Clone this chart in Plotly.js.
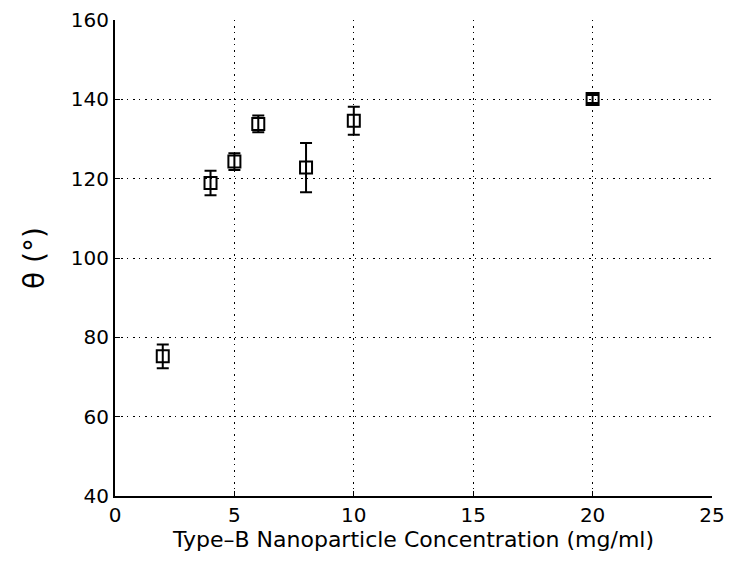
<!DOCTYPE html>
<html>
<head>
<meta charset="utf-8">
<script src="https://cdn.plot.ly/plotly-3.0.1.min.js"></script>
<style>html,body{margin:0;padding:0;background:#fff;}#chart{width:730px;height:563px;}</style>
</head>
<body>
<div id="chart"></div>
<script>
const concentration = [2, 4, 5, 6, 8, 10, 20];
const theta = [75.2, 118.9, 124.3, 133.8, 122.8, 134.6, 140.1];
const thetaErr = [3.0, 3.1, 2.1, 2.1, 6.2, 3.5, 1.0];
const xTicks = [0, 5, 10, 15, 20, 25];
const yTicks = [40, 60, 80, 100, 120, 140, 160];

const gridDash = "1px,5px,2px,4px";
const trace = {
  x: concentration, y: theta, type: 'scatter', mode: 'markers',
  marker: {symbol: 'square-open', size: 12, color: '#000', line: {width: 2, color: '#000'}},
  error_y: {type: 'data', array: thetaErr, visible: true, color: '#000', thickness: 2, width: 6},
  showlegend: false, cliponaxis: false
};
const layout = {
  width: 730, height: 563,
  margin: {l: 115, r: 18, t: 20, b: 67},
  paper_bgcolor: '#fff', plot_bgcolor: '#fff',
  font: {family: 'DejaVu Sans, Liberation Sans, sans-serif', color: '#000', size: 20},
  xaxis: {
    range: [0, 25], tickvals: xTicks, ticktext: xTicks.map(String),
    showline: true, linecolor: '#000', linewidth: 2, mirror: false,
    ticks: 'inside', ticklen: 5, tickcolor: '#000', tickwidth: 1,
    showgrid: true, gridcolor: '#000', gridwidth: 1, griddash: gridDash,
    zeroline: false, tickfont: {size: 20},
    title: {text: 'Type\u2013B Nanoparticle Concentration (mg/ml)', font: {size: 22}, standoff: 2}
  },
  yaxis: {
    range: [40, 160], tickvals: yTicks, ticktext: yTicks.map(String),
    showline: true, linecolor: '#000', linewidth: 2, mirror: false,
    ticks: 'inside', ticklen: 5, tickcolor: '#000', tickwidth: 1,
    showgrid: true, gridcolor: '#000', gridwidth: 1, griddash: gridDash,
    zeroline: false, tickfont: {size: 20},
    title: {text: '\u03b8 (\u00b0)', font: {size: 28}, standoff: 18}
  }
};
Plotly.newPlot('chart', [trace], layout, {displayModeBar: false, staticPlot: true});
</script>
</body>
</html>
